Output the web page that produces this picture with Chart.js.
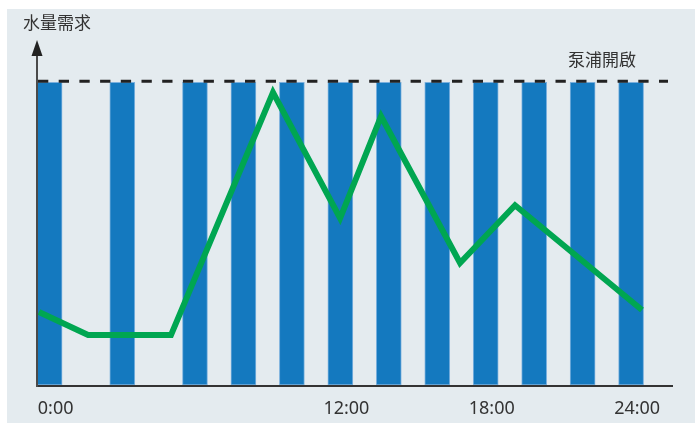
<!DOCTYPE html>
<html>
<head>
<meta charset="utf-8">
<script src="https://cdn.jsdelivr.net/npm/chart.js@4/dist/chart.umd.min.js"></script>
<style>
  html, body { margin: 0; padding: 0; background: #ffffff; }
  #wrap { position: relative; width: 695px; height: 423px; }
</style>
</head>
<body>
<div id="wrap"><canvas id="c" width="695" height="423"></canvas></div>
<script>
// Pump running periods (hour of day at centre of each block) and their level
const pumpHours = [-0.25, 2.75, 5.75, 7.75, 9.75, 11.75, 13.75, 15.75, 17.75, 19.75, 21.75, 23.75];
const pumpLevel = 100;

// Water demand through the day
const demandHours = [-0.69, 1.34, 4.76, 8.97, 11.74, 13.43, 16.69, 18.96, 24.2];
const demandValues = [24.1, 16.5, 16.5, 96.7, 55.1, 88.8, 40.3, 59.4, 24.8];

// Time axis ticks
const tickHours = [0, 12, 18, 24];
const tickLabels = ['0:00', '12:00', '18:00', '24:00'];

const yAxisTitle = '水量需求';
const pumpLabel = '泵浦開啟';

const CJK = '"Noto Sans CJK TC", "Noto Sans CJK SC", sans-serif';
const LATIN = '"Noto Sans", "Open Sans", sans-serif';

const decor = {
  id: 'decor',
  beforeDraw(chart) {
    const ctx = chart.ctx;
    ctx.save();
    ctx.fillStyle = '#e4ebef';
    ctx.fillRect(7, 9, chart.width - 7, chart.height - 9);
    ctx.restore();
  },
  afterDatasetsDraw(chart) {
    const ctx = chart.ctx;
    const x = chart.scales.x, y = chart.scales.y;
    const area = chart.chartArea;
    ctx.save();

    // pump-on threshold
    const yLevel = y.getPixelForValue(pumpLevel) - 1;
    ctx.strokeStyle = '#222';
    ctx.lineWidth = 3;
    ctx.setLineDash([10.3, 10.4]);
    ctx.beginPath();
    ctx.moveTo(area.left + 1, yLevel);
    ctx.lineTo(area.right - 5, yLevel);
    ctx.stroke();
    ctx.setLineDash([]);

    // time axis
    ctx.strokeStyle = '#333';
    ctx.lineWidth = 2;
    ctx.beginPath();
    ctx.moveTo(area.left, area.bottom + 1);
    ctx.lineTo(area.right, area.bottom + 1);
    ctx.stroke();

    // demand axis with arrow
    ctx.strokeStyle = '#4a4a4a';
    ctx.lineWidth = 2;
    ctx.beginPath();
    ctx.moveTo(area.left, area.bottom + 2);
    ctx.lineTo(area.left, area.top + 12);
    ctx.stroke();
    ctx.fillStyle = '#222';
    ctx.beginPath();
    ctx.moveTo(area.left, area.top);
    ctx.lineTo(area.left + 5.5, area.top + 16);
    ctx.lineTo(area.left - 5.5, area.top + 16);
    ctx.closePath();
    ctx.fill();

    // tick labels
    ctx.fillStyle = '#333';
    ctx.font = '18px ' + LATIN;
    ctx.textAlign = 'center';
    ctx.textBaseline = 'middle';
    tickHours.forEach((h, i) => {
      ctx.fillText(tickLabels[i], x.getPixelForValue(h), area.bottom + 24);
    });

    // titles
    ctx.font = '17px ' + CJK;
    ctx.fillStyle = '#333';
    ctx.fillText(yAxisTitle, area.left + 20, area.top - 17);
    ctx.fillText(pumpLabel, area.right - 71, yLevel - 22);
    ctx.restore();
  }
};

new Chart(document.getElementById('c'), {
  type: 'bar',
  data: {
    datasets: [
      {
        type: 'line',
        order: 0,
        data: demandHours.map((h, i) => ({ x: h, y: demandValues[i] })),
        borderColor: '#00a651',
        borderWidth: 6,
        borderJoinStyle: 'miter',
        pointRadius: 0,
        tension: 0,
        fill: false
      },
      {
        type: 'bar',
        order: 1,
        data: pumpHours.map(h => ({ x: h, y: pumpLevel })),
        backgroundColor: '#1479bf',
        borderColor: 'rgba(110,170,220,0.9)',
        borderWidth: 1,
        borderSkipped: false,
        barThickness: 25
      }
    ]
  },
  options: {
    responsive: false,
    animation: false,
    events: [],
    layout: { padding: { left: 37, right: 22, top: 40, bottom: 38 } },
    plugins: { legend: { display: false }, tooltip: { enabled: false } },
    scales: {
      x: { type: 'linear', min: -0.77, max: 25.48, offset: false, display: false },
      y: { type: 'linear', min: 0, max: 114, display: false }
    }
  },
  plugins: [decor]
});
</script>
</body>
</html>
